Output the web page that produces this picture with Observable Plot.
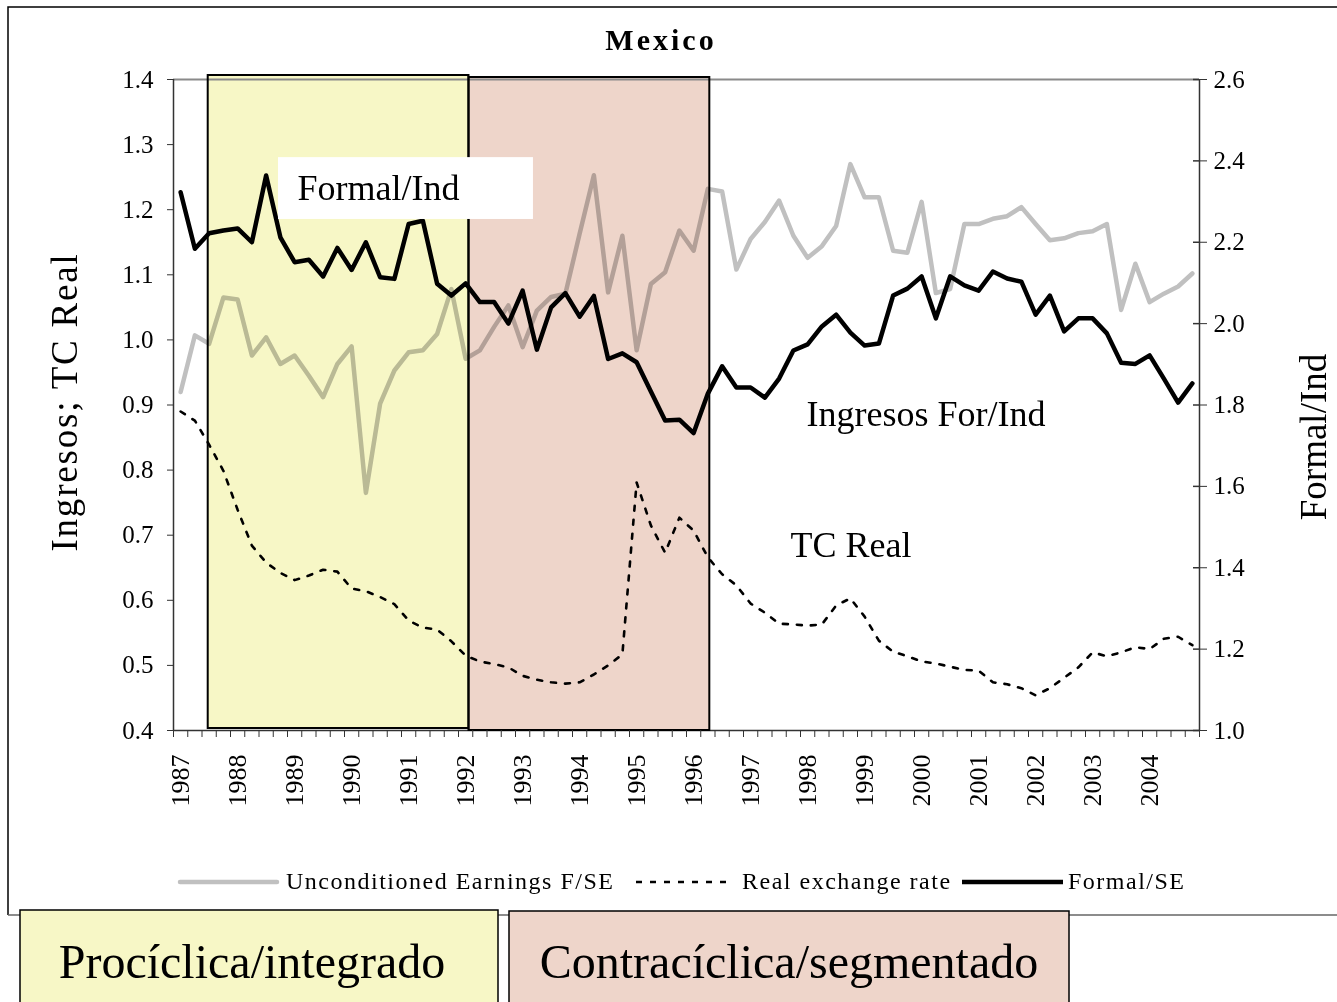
<!DOCTYPE html>
<html><head><meta charset="utf-8">
<script src="https://cdn.jsdelivr.net/npm/d3@7"></script>
<script src="https://cdn.jsdelivr.net/npm/@observablehq/plot@0.6"></script>
<style>
html,body{margin:0;padding:0;background:#fff;overflow:hidden;}
#wrap{position:relative;width:1337px;height:1002px;overflow:hidden;font-family:"Liberation Serif","Times New Roman",serif;}
#wrap svg{position:absolute;left:0;top:0;}
</style></head><body><div id="wrap"></div><script>
// ---- data ----
const years = [1987,1988,1989,1990,1991,1992,1993,1994,1995,1996,1997,1998,1999,2000,2001,2002,2003,2004];
const quarterOffsets = [0, 0.25, 0.5, 0.75];
// Unconditioned Earnings F/SE (left axis)
const earningsFSE = [0.920,1.007,0.994,1.065,1.062,0.976,1.004,0.963,0.976,0.945,
  0.912,0.963,0.990,0.765,0.902,0.953,0.981,0.984,1.009,1.078,
  0.971,0.984,1.020,1.053,0.989,1.045,1.066,1.071,1.163,1.253,
  1.073,1.160,0.984,1.086,1.104,1.168,1.137,1.232,1.228,1.108,
  1.155,1.181,1.214,1.160,1.126,1.144,1.175,1.270,1.219,1.219,
  1.137,1.134,1.212,1.072,1.078,1.178,1.178,1.186,1.190,1.204,
  1.178,1.153,1.156,1.164,1.167,1.178,1.046,1.117,1.058,1.071,
  1.082,1.102];
// Real exchange rate (left axis)
const realExchangeRate = [0.890,0.876,0.839,0.799,0.739,0.684,0.658,0.642,0.631,0.638,
  0.647,0.644,0.618,0.614,0.605,0.594,0.569,0.558,0.555,0.537,
  0.515,0.506,0.502,0.497,0.484,0.478,0.474,0.472,0.474,0.486,
  0.500,0.517,0.781,0.715,0.673,0.727,0.707,0.666,0.640,0.623,
  0.595,0.581,0.564,0.563,0.561,0.563,0.592,0.603,0.575,0.538,
  0.521,0.514,0.506,0.503,0.498,0.493,0.492,0.474,0.471,0.465,
  0.454,0.465,0.481,0.497,0.520,0.514,0.520,0.528,0.525,0.541,
  0.544,0.531];
// Formal/SE (right axis)
const formalSE = [2.323,2.184,2.222,2.229,2.234,2.200,2.364,2.212,2.151,2.157,
  2.116,2.186,2.132,2.200,2.114,2.110,2.245,2.253,2.098,2.069,
  2.099,2.053,2.053,2.000,2.081,1.936,2.040,2.075,2.017,2.068,
  1.913,1.927,1.905,1.833,1.762,1.764,1.731,1.828,1.895,1.843,
  1.843,1.818,1.865,1.934,1.949,1.993,2.022,1.978,1.946,1.951,
  2.069,2.086,2.116,2.013,2.116,2.094,2.081,2.128,2.111,2.103,
  2.022,2.069,1.981,2.013,2.013,1.976,1.904,1.901,1.922,1.865,
  1.806,1.853];
const leftTicks = [0.4,0.5,0.6,0.7,0.8,0.9,1.0,1.1,1.2,1.3,1.4];
const rightTicks = [1.0,1.2,1.4,1.6,1.8,2.0,2.2,2.4,2.6];
const regimes = [
  {start: 1987.484, end: 1992.059, label: "Procíclica/integrado"},
  {start: 1992.059, end: 1996.284, label: "Contracíclica/segmentado"}
];
const annotations = [
  {text: "Formal/Ind", x: 1989.05, y: 1.232},
  {text: "Ingresos For/Ind", x: 1997.98, y: 0.885},
  {text: "TC Real", x: 1997.70, y: 0.684}
];
const labelBox = [{x1: 1988.717, x2: 1993.19, y1: 1.185, y2: 1.280}];
const legendItems = ["Unconditioned Earnings F/SE", "Real exchange rate", "Formal/SE"];
const title = "Mexico";
const leftTitle = "Ingresos; TC Real";
const rightTitle = "Formal/Ind";

// ---- helpers ----
const L0 = 0.4, L1 = 1.4, R0 = 1.0, R1 = 2.6;
const toLeft = r => L0 + (r - R0) * (L1 - L0) / (R1 - R0);
const toRight = l => R0 + (l - L0) * (R1 - R0) / (L1 - L0);
const quarters = years.flatMap(y => quarterOffsets.map(q => y + q));
const rows = quarters.map((t, i) => ({t, earn: earningsFSE[i], rer: realExchangeRate[i], formal: toLeft(formalSE[i])}));
const half = 0.125;
const boundaries = quarters.map(t => t - half).concat([quarters[quarters.length - 1] + half]);
const xDomain = [quarters[0] - half, quarters[quarters.length - 1] + half];
const f1 = d3.format(".1f");
const serif = "Liberation Serif";
const yellowTint = "#f7f7c6", brownTint = "#eed5ca";

const W = 1337, H = 800;
const mL = 173, mR = 138, mT = 79, mB = 70;
const frameW = W - mL - mR;

const chart = Plot.plot({
  width: W, height: H,
  marginLeft: mL, marginRight: mR, marginTop: mT, marginBottom: mB,
  style: {fontFamily: serif, fontSize: "25px", color: "#000", background: "transparent", overflow: "visible"},
  x: {domain: xDomain},
  y: {domain: [L0, L1]},
  marks: [
    Plot.line(rows, {x: "t", y: "earn", stroke: "#c0c0c0", strokeWidth: 4.5, strokeLinejoin: "round"}),
    Plot.line(rows, {x: "t", y: "rer", stroke: "#000", strokeWidth: 2.6, strokeDasharray: "5,9"}),
    Plot.line(rows, {x: "t", y: "formal", stroke: "#000", strokeWidth: 4.5, strokeLinejoin: "round"}),
    Plot.rect([regimes[0]], {x1: "start", x2: "end", fill: yellowTint, mixBlendMode: "multiply", insetTop: -4, insetBottom: 2}),
    Plot.rect([regimes[1]], {x1: "start", x2: "end", fill: brownTint, mixBlendMode: "multiply", insetTop: -2}),
    Plot.ruleY([L1], {stroke: "#8a8a8a", strokeWidth: 2}),
    Plot.ruleY([L0], {stroke: "#333", strokeWidth: 1.5}),
    Plot.ruleX([xDomain[0]], {stroke: "#333", strokeWidth: 1.5}),
    Plot.ruleX([xDomain[1]], {stroke: "#333", strokeWidth: 1.5}),
    Plot.rect([regimes[0]], {x1: "start", x2: "end", fill: "none", stroke: "#000", strokeWidth: 2, insetTop: -4, insetBottom: 2}),
    Plot.rect([regimes[1]], {x1: "start", x2: "end", fill: "none", stroke: "#000", strokeWidth: 2, insetTop: -2}),
    Plot.axisY({anchor: "left", ticks: leftTicks, tickFormat: f1, tickSize: 6, tickPadding: 14, label: null, stroke: "#333"}),
    Plot.axisY({anchor: "right", ticks: rightTicks.map(toLeft), tickFormat: d => f1(toRight(d)), tickSize: 7, tickPadding: 7, label: null, stroke: "#333"}),
    Plot.tickY(rightTicks.map(toLeft), {y: d => d, insetLeft: frameW - 6, stroke: "#333", strokeWidth: 1.5}),
    Plot.axisX({ticks: boundaries, tickSize: 7, tickFormat: () => "", label: null, stroke: "#333"}),
    Plot.axisX({ticks: years, tickSize: 0, tickRotate: -90, tickPadding: 24, fontSize: 26, tickFormat: d => String(d), label: null}),
    Plot.rect(labelBox, {x1: "x1", x2: "x2", y1: "y1", y2: "y2", fill: "#fff"}),
    Plot.text(annotations, {x: "x", y: "y", text: "text", textAnchor: "start", fontSize: 36, fontFamily: serif, fill: "#000"})
  ]
});

// ---- underlay: frame, title, axis titles, legend, regime boxes ----
const under = d3.create("svg").attr("width", W).attr("height", 1002)
  .style("font-family", "'Liberation Serif'");
under.append("path").attr("d", "M1345,7 L8,7 L8,915").attr("fill", "none").attr("stroke", "#000").attr("stroke-width", 1.5);
under.append("line").attr("x1", 8).attr("x2", 1337).attr("y1", 915).attr("y2", 915).attr("stroke", "#666").attr("stroke-width", 1.5);
under.append("text").attr("x", 661).attr("y", 50).attr("text-anchor", "middle").attr("font-size", 30)
  .attr("font-weight", "bold").attr("letter-spacing", 3).text(title);
under.append("text").attr("transform", "translate(77,402) rotate(-90)").attr("text-anchor", "middle")
  .attr("font-size", 37).attr("letter-spacing", 1.8).text(leftTitle);
under.append("text").attr("transform", "translate(1326,437) rotate(-90)").attr("text-anchor", "middle")
  .attr("font-size", 37).text(rightTitle);
// legend
const lg = under.append("g").attr("font-size", 24).attr("letter-spacing", 1.5);
lg.append("line").attr("x1", 180).attr("x2", 277).attr("y1", 882).attr("y2", 882).attr("stroke", "#c0c0c0").attr("stroke-width", 4.5).attr("stroke-linecap", "round");
lg.append("text").attr("x", 286).attr("y", 889).text(legendItems[0]);
lg.append("line").attr("x1", 636).attr("x2", 728).attr("y1", 882).attr("y2", 882).attr("stroke", "#000").attr("stroke-width", 2.6).attr("stroke-dasharray", "6,8");
lg.append("text").attr("x", 742).attr("y", 889).text(legendItems[1]);
lg.append("line").attr("x1", 962).attr("x2", 1063).attr("y1", 882).attr("y2", 882).attr("stroke", "#000").attr("stroke-width", 4.5);
lg.append("text").attr("x", 1068).attr("y", 889).text(legendItems[2]);
// bottom regime boxes
const boxes = [{x: 20, y: 910, w: 478, tx: 252, fill: yellowTint}, {x: 509, y: 911, w: 560, tx: 789, fill: brownTint}];
boxes.forEach((b, i) => {
  under.append("rect").attr("x", b.x).attr("y", b.y).attr("width", b.w).attr("height", 130)
    .attr("fill", b.fill).attr("stroke", "#000").attr("stroke-width", 1.5);
  under.append("text").attr("x", b.tx).attr("y", 978).attr("text-anchor", "middle")
    .attr("font-size", 48).text(regimes[i].label);
});

const wrap = document.getElementById("wrap");
wrap.appendChild(under.node());
wrap.appendChild(chart);
</script></body></html>
